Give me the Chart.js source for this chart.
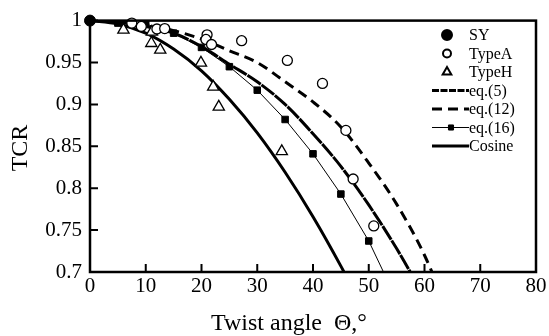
<!DOCTYPE html>
<html>
<head>
<meta charset="utf-8">
<script src="https://cdn.jsdelivr.net/npm/chart.js"></script>
<style>
  body { margin: 0; background: #fff; }
  canvas { display: block; }
</style>
</head>
<body>
<canvas id="tcrChart" width="549" height="336"></canvas>
<script>
// measured points
const syAngle = [0];
const syTcr = [1];
const typeAAngle = [7.5, 9.2, 12.0, 13.4, 21.0, 20.8, 21.8, 27.2, 35.4, 41.7, 45.9, 47.2, 50.9];
const typeATcr = [0.997, 0.993, 0.990, 0.9905, 0.983, 0.9775, 0.9715, 0.976, 0.9525, 0.925, 0.869, 0.811, 0.755];
const typeHAngle = [6.0, 11.1, 11.0, 12.6, 19.9, 22.1, 23.1, 34.4];
const typeHTcr = [0.989, 0.9865, 0.973, 0.965, 0.9495, 0.921, 0.897, 0.844];

// model curves, read every 5 degrees
const angles = [0, 5, 10, 15, 20, 25, 30, 35, 40, 45, 50, 55, 60, 65];
const eq5Tcr = [1, 0.998, 0.993, 0.985, 0.969, 0.948, 0.927, 0.900, 0.865, 0.826, 0.780, 0.728, 0.670];
const eq12Tcr = [1, 0.999, 0.995, 0.988, 0.978, 0.964, 0.950, 0.927, 0.903, 0.873, 0.830, 0.781, 0.720, 0.640];
const eq16Tcr = [1, 0.997, 0.996, 0.985, 0.968, 0.945, 0.917, 0.882, 0.841, 0.793, 0.737, 0.667];
const cosineTcr = [1, 0.996, 0.985, 0.966, 0.940, 0.906, 0.866, 0.819, 0.766, 0.707, 0.643];

const xTicks = [0, 10, 20, 30, 40, 50, 60, 70, 80];
const yTicks = [0.7, 0.75, 0.8, 0.85, 0.9, 0.95, 1];

const serif = '"Liberation Serif", "DejaVu Serif", serif';

function pts(xs, ys) {
  return ys.map((y, i) => ({ x: xs[i], y: y }));
}

const frameAndLegend = {
  id: 'frameAndLegend',
  afterDatasetsDraw(chart) {
    const ctx = chart.ctx;
    const area = chart.chartArea;
    const xs = chart.scales.x;
    const ys = chart.scales.y;
    ctx.save();
    ctx.strokeStyle = '#000';
    ctx.lineWidth = 2.5;
    ctx.strokeRect(area.left, area.top, area.right - area.left, area.bottom - area.top);

    // inward ticks
    ctx.lineWidth = 2;
    ctx.beginPath();
    xTicks.forEach((v) => {
      const px = xs.getPixelForValue(v);
      ctx.moveTo(px, area.bottom);
      ctx.lineTo(px, area.bottom - 8);
    });
    yTicks.forEach((v) => {
      const py = ys.getPixelForValue(v);
      ctx.moveTo(area.left, py);
      ctx.lineTo(area.left + 8, py);
    });
    ctx.stroke();

    // legend, drawn inside the plot
    const legendRadius = [5, 4, 5, 0, 0, 3.6, 0];
    chart.data.datasets.forEach((ds, i) => {
      const y = 35 + i * 18.5;
      ctx.save();
      if (ds.showLine) {
        ctx.strokeStyle = '#000';
        ctx.lineWidth = ds.borderWidth;
        ctx.setLineDash(i === 3 ? [7, 1.5] : (ds.borderDash || []));
        ctx.beginPath();
        ctx.moveTo(432, y);
        ctx.lineTo(469, y);
        ctx.stroke();
        ctx.setLineDash([]);
      }
      if (legendRadius[i] > 0) {
        ctx.fillStyle = ds.pointBackgroundColor || ds.backgroundColor;
        ctx.strokeStyle = '#000';
        Chart.helpers.drawPoint(ctx, {
          pointStyle: ds.pointStyle,
          radius: legendRadius[i],
          rotation: 0,
          borderWidth: ds.showLine ? 1 : 1.3
        }, ds.showLine ? 451 : 447, y);
      }
      ctx.fillStyle = '#000';
      ctx.font = '16px ' + serif;
      ctx.textAlign = 'left';
      ctx.textBaseline = 'middle';
      ctx.fillText(ds.label, 469, y + 1);
      ctx.restore();
    });

    // axis titles
    ctx.fillStyle = '#000';
    ctx.font = '24px ' + serif;
    ctx.textBaseline = 'alphabetic';
    ctx.textAlign = 'left';
    ctx.fillText('Twist angle  \u0398,\u00b0', 211, 330);
    ctx.translate(27, 148);
    ctx.rotate(-Math.PI / 2);
    ctx.textAlign = 'center';
    ctx.fillText('TCR', 0, 0);
    ctx.restore();
  }
};

new Chart(document.getElementById('tcrChart'), {
  type: 'scatter',
  data: {
    datasets: [
      {
        label: 'SY',
        data: pts(syAngle, syTcr),
        pointStyle: 'circle',
        pointRadius: 5.5,
        backgroundColor: '#000',
        borderColor: '#000',
        borderWidth: 1,
        clip: false
      },
      {
        label: 'TypeA',
        data: pts(typeAAngle, typeATcr),
        pointStyle: 'circle',
        pointRadius: 5,
        backgroundColor: '#fff',
        borderColor: '#000',
        borderWidth: 1.3,
        clip: false
      },
      {
        label: 'TypeH',
        data: pts(typeHAngle, typeHTcr),
        pointStyle: 'triangle',
        pointRadius: 6.5,
        backgroundColor: '#fff',
        borderColor: '#000',
        borderWidth: 1.3,
        clip: false
      },
      {
        label: 'eq.(5)',
        data: pts(angles, eq5Tcr),
        showLine: true,
        borderColor: '#000',
        borderWidth: 3,
        borderDash: [16, 1],
        pointRadius: 0,
        cubicInterpolationMode: 'monotone',
        clip: 0
      },
      {
        label: 'eq.(12)',
        data: pts(angles, eq12Tcr),
        showLine: true,
        borderColor: '#000',
        borderWidth: 3,
        borderDash: [10, 6],
        pointRadius: 0,
        cubicInterpolationMode: 'monotone',
        clip: 0
      },
      {
        label: 'eq.(16)',
        data: pts(angles, eq16Tcr),
        showLine: true,
        borderColor: '#000',
        borderWidth: 1,
        pointStyle: 'rect',
        pointRadius: 4.6,
        pointBackgroundColor: '#000',
        pointBorderColor: '#000',
        backgroundColor: '#000',
        clip: 0
      },
      {
        label: 'Cosine',
        data: pts(angles, cosineTcr),
        showLine: true,
        borderColor: '#000',
        borderWidth: 3,
        pointRadius: 0,
        cubicInterpolationMode: 'monotone',
        clip: 0
      }
    ]
  },
  options: {
    responsive: false,
    animation: false,
    devicePixelRatio: 1,
    layout: { padding: { top: 19, right: 13, left: 0, bottom: 0 } },
    plugins: {
      legend: { display: false },
      tooltip: { enabled: false }
    },
    scales: {
      x: {
        type: 'linear',
        min: 0,
        max: 80,
        afterFit: (scale) => { scale.height = 64; },
        afterBuildTicks: (scale) => { scale.ticks = xTicks.map((v) => ({ value: v })); },
        grid: { display: false, drawTicks: false },
        border: { display: false },
        ticks: {
          padding: 2,
          color: '#000',
          font: { family: serif, size: 21 },
          callback: (v) => String(v)
        }
      },
      y: {
        type: 'linear',
        min: 0.7,
        max: 1,
        afterFit: (scale) => { scale.width = 90; },
        afterBuildTicks: (scale) => { scale.ticks = yTicks.map((v) => ({ value: v })); },
        grid: { display: false, drawTicks: false },
        border: { display: false },
        ticks: {
          padding: 8,
          color: '#000',
          font: { family: serif, size: 21 },
          callback: (v) => String(+v.toFixed(2))
        }
      }
    }
  },
  plugins: [frameAndLegend]
});
</script>
</body>
</html>
